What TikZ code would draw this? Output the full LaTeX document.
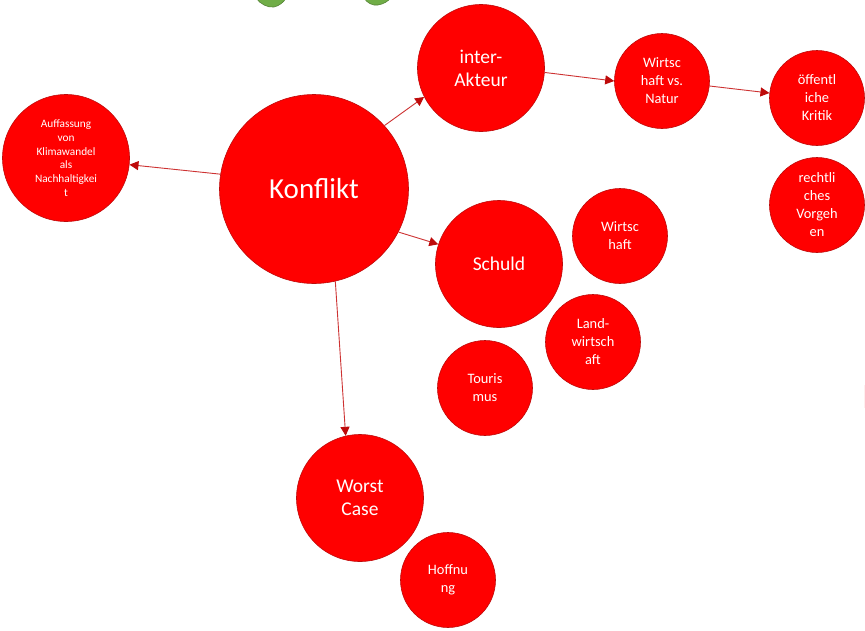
\documentclass[tikz,border=0pt]{standalone}
\usepackage{fontspec}
\setmainfont{Carlito}
\usetikzlibrary{arrows.meta}
\definecolor{rd}{RGB}{255,0,0}
\definecolor{edge}{RGB}{190,10,10}
\definecolor{lin}{RGB}{205,50,50}
\definecolor{grn}{RGB}{112,173,71}
\definecolor{grnd}{RGB}{84,130,53}
\tikzset{
 x=1pt,y=-1pt,
 bub/.style={circle,fill=rd,draw=edge,line width=0.6pt,inner sep=0pt,text=white,align=center},
 big/.style={bub,minimum size=127pt,font=\fontsize{19.5}{23}\selectfont},
 mid/.style={bub,minimum size=95pt,font=\fontsize{14.4}{18}\selectfont},
 conn/.style={draw=lin,line width=0.9pt,-{Triangle[length=9pt,width=9pt,color=edge]}}
}
\begin{document}
\begin{tikzpicture}
\useasboundingbox (0,0) rectangle (865,630);
\fill[white] (0,0) rectangle (865,630);
\begin{scope}
\clip (0,0) rectangle (865,630);
\fill[grn,draw=grnd,line width=0.6pt] (256,-2) .. controls (260,4) and (268,8) .. (274,7) .. controls (279,6) and (284,2) .. (286,-2) -- cycle;
\fill[grn,draw=grnd,line width=0.6pt] (364,-2) .. controls (367,3) and (373,6) .. (378,5) .. controls (384,4) and (388,1) .. (391,-2) -- cycle;
\fill[pink!25] (864,385) rectangle (865,408);
\end{scope}
\node[bub,minimum size=189pt,font=\fontsize{29}{34}\selectfont] (k) at (314,189) {Konflikt};
\node[big] (i) at (481,68) {inter-\\Akteur};
\node[mid] (w) at (662,81) {Wirtsc\\haft vs.\\Natur};
\node[mid] (o) at (817,98) {öffentl\\iche\\Kritik};
\node[mid] (r) at (817,205) {rechtli\\ches\\Vorgeh\\en};
\node[big,font=\fontsize{11.3}{13.7}\selectfont] (a) at (66,158) {Auffassung\\von\\Klimawandel\\als\\Nachhaltigkei\\t};
\node[big] (s) at (499,264) {Schuld};
\node[mid] (wi) at (620,236) {Wirtsc\\haft};
\node[mid] (l) at (593,342) {Land-\\wirtsch\\aft};
\node[mid] (t) at (485,388) {Touris\\mus};
\node[big] (c) at (360,498) {Worst\\Case};
\node[mid] (h) at (448,580) {Hoffnu\\ng};
\draw[conn] (k.42.4) -- (i.-153.4);
\draw[conn] (i.-4.5) -- (w.180);
\draw[conn] (w.-6) -- (o.174);
\draw[conn] (k.171.5) -- (a.-6);
\draw[conn] (k.-27) -- (s.162);
\draw[conn] (k.-77.5) -- (c.103);
\end{tikzpicture}
\end{document}
